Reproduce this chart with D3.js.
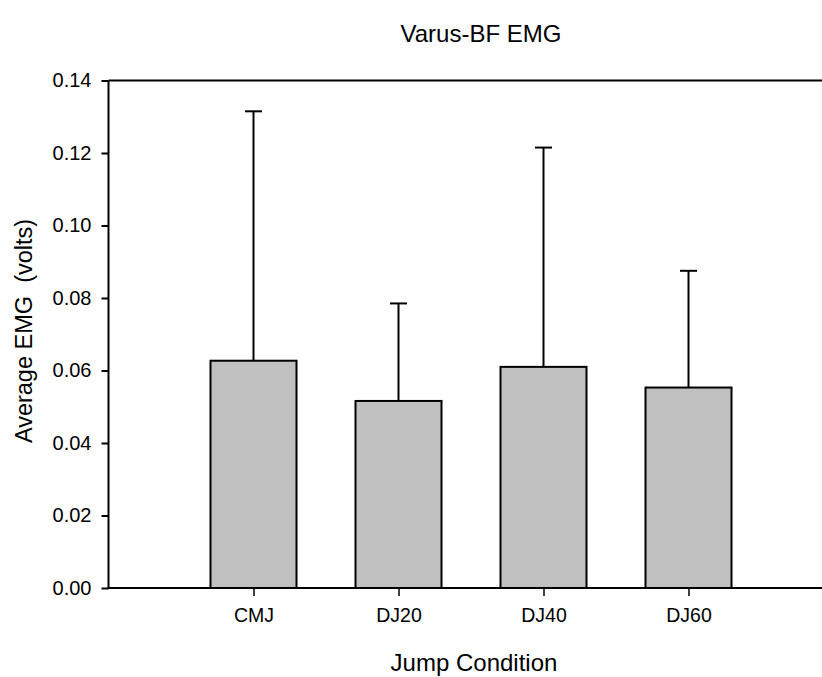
<!DOCTYPE html>
<html><head><meta charset="utf-8">
<script src="https://cdn.jsdelivr.net/npm/d3@7"></script>
<style>body{margin:0;background:#fff}svg{display:block}text{font-family:Arial,"Liberation Sans",sans-serif;fill:#000}</style>
</head><body><svg id="c" width="822" height="677"></svg>
<script>
const categories = ["CMJ","DJ20","DJ40","DJ60"];
const means = [0.0627, 0.0516, 0.0610, 0.0553];
const errUpper = [0.1315, 0.0785, 0.1215, 0.0875];
const yTicks = [0.00,0.02,0.04,0.06,0.08,0.10,0.12,0.14];
const title = "Varus-BF EMG";
const xLabel = "Jump Condition";
const yLabel = "Average EMG\u00a0\u00a0(volts)";

const svg = d3.select("#c");
const L = 108.5, T = 80.5, B = 588, band = 145;
const slots = ["_s0", ...categories, "_s5"];
const x = d3.scalePoint().domain(slots).range([L, L + band*(slots.length-1)]);
const y = d3.scaleLinear().domain([0, 0.14]).range([B, T]);
const barW = 86;

// bars
svg.append("g").selectAll("rect").data(categories).join("rect")
  .attr("x", d => x(d) - barW/2).attr("width", barW)
  .attr("y", (d,i) => y(means[i])).attr("height", (d,i) => B - y(means[i]))
  .attr("fill", "#c0c0c0").attr("stroke", "#000").attr("stroke-width", 2);

// error bars
const eg = svg.append("g").attr("stroke", "#000").attr("stroke-width", 2);
categories.forEach((d,i) => {
  eg.append("line").attr("x1", x(d)).attr("x2", x(d)).attr("y1", y(means[i])).attr("y2", y(errUpper[i]));
  eg.append("line").attr("x1", x(d)-8.5).attr("x2", x(d)+8.5).attr("y1", y(errUpper[i])).attr("y2", y(errUpper[i]));
});

// y axis
const ya = svg.append("g").attr("transform", `translate(${L},0)`)
  .call(d3.axisLeft(y).tickValues(yTicks).tickFormat(d3.format(".2f")).tickSize(7).tickPadding(10));
ya.select(".domain").remove();
ya.selectAll(".tick line").attr("stroke-width", 2);
ya.selectAll(".tick text").attr("font-size", 20).attr("font-family", "Arial, 'Liberation Sans', sans-serif");
svg.append("line").attr("x1", L).attr("x2", L).attr("y1", T).attr("y2", B).attr("stroke", "#000").attr("stroke-width", 2);

// top line
svg.append("line").attr("x1", L).attr("x2", 822).attr("y1", T).attr("y2", T).attr("stroke", "#000").attr("stroke-width", 2);

// x axis
const xa = svg.append("g").attr("transform", `translate(0,${B})`)
  .call(d3.axisBottom(x).tickValues(categories).tickSize(8).tickPadding(12));
xa.select(".domain").remove();
xa.selectAll(".tick line").attr("stroke-width", 1.5);
xa.selectAll(".tick text").attr("font-size", 19.5).attr("font-family", "Arial, 'Liberation Sans', sans-serif");
svg.append("line").attr("x1", L-1).attr("x2", 822).attr("y1", B).attr("y2", B).attr("stroke", "#000").attr("stroke-width", 2);

// titles
svg.append("text").attr("x", 481).attr("y", 42).attr("text-anchor", "middle").attr("font-size", 24).text(title);
svg.append("text").attr("x", 474).attr("y", 671).attr("text-anchor", "middle").attr("font-size", 24).text(xLabel);
svg.append("text").attr("transform", `translate(32,331) rotate(-90)`).attr("text-anchor", "middle").attr("font-size", 23.5).text(yLabel);
</script></body></html>
